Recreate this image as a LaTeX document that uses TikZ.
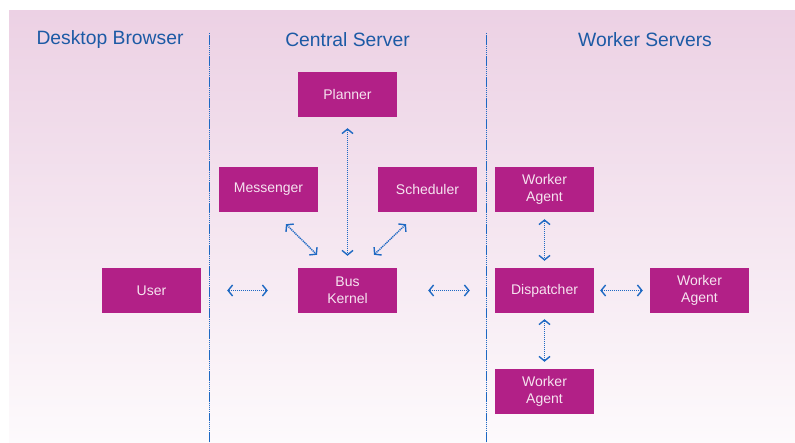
\documentclass[tikz,border=0pt]{standalone}
\usepackage{fontspec}
\setmainfont{Liberation Sans}
\usetikzlibrary{arrows.meta}
\definecolor{bgtop}{RGB}{236,209,228}
\definecolor{bgbottom}{RGB}{253,250,252}
\definecolor{boxfill}{RGB}{178,32,135}
\definecolor{boxtext}{RGB}{246,228,240}
\definecolor{lineblue}{RGB}{28,90,165}
\definecolor{dotblue}{RGB}{30,105,195}
\tikzset{
  part/.style={lineblue, font=\fontsize{19.3}{23}\selectfont},
  comp/.style={fill=boxfill, text=boxtext, minimum width=99pt, minimum height=45pt,
    inner sep=0pt, align=center, font=\fontsize{14}{17}\selectfont},
  divider/.style={dotblue, line width=1.5pt, dash pattern=on 1.5pt off 0.6pt},
  link/.style={dotblue, line width=1.4pt, dash pattern=on 1.2pt off 0.8pt,
    {Straight Barb[length=4.5pt,width=11pt]}-{Straight Barb[length=4.5pt,width=11pt]}}
}
\begin{document}
\begin{tikzpicture}[x=1pt, y=-1pt]
	\useasboundingbox (0,0) rectangle (795,443);
	\shade[top color=bgtop, bottom color=bgbottom] (9,11) rectangle (795,443); % Hintergrund
	
	% Spalten
	\draw[divider] (209.5,33) -- (209.5,443);
	\draw[divider] (486.5,33) -- (486.5,443);
	\node[part] (browser) at (110,40) {Desktop Browser};
	\node[part] (central) at (347.5,40) {Central Server};
	\node[part] (workers) at (645,40) {Worker Servers};
	
	% Komponenten
	\node[comp] (user) at (151.5,290.5) {User};
	\node[comp] (planner) at (347.5,94.5) {Planner};
	\node[comp] (messenger) at (268.5,189.5) {Messenger};
	\node[comp] (scheduler) at (427.5,189.5) {Scheduler};
	\node[comp] (bus) at (347.5,290.5) {Bus\\Kernel};
	\node[comp] (agenttop) at (544.5,189.5) {Worker\\Agent};
	\node[comp] (dispatcher) at (544.5,290.5) {Dispatcher};
	\node[comp] (agentright) at (699.5,290.5) {Worker\\Agent};
	\node[comp] (agentbottom) at (544.5,391.5) {Worker\\Agent};
	
	% Verbindungen
	\draw[link, shorten <=11pt, shorten >=12pt] (planner.south) -- (bus.north);
	\draw[link] ([shift={(17.5,12)}]messenger.south) -- ([shift={(-30.5,-13)}]bus.north);
	\draw[link] ([shift={(-21.5,12)}]scheduler.south) -- ([shift={(26.5,-13)}]bus.north);
	\draw[link, shorten <=26pt, shorten >=30pt] (user.east) -- (bus.west);
	\draw[link, shorten <=31pt, shorten >=25pt] (bus.east) -- (dispatcher.west);
	\draw[link, shorten <=6pt, shorten >=7pt] (dispatcher.east) -- (agentright.west);
	\draw[link, shorten <=7pt, shorten >=7pt] (agenttop.south) -- (dispatcher.north);
	\draw[link, shorten <=6pt, shorten >=7pt] (dispatcher.south) -- (agentbottom.north);
	
	%\draw[help lines, step=50] (0,0) grid (795,443);
\end{tikzpicture}
\end{document}
